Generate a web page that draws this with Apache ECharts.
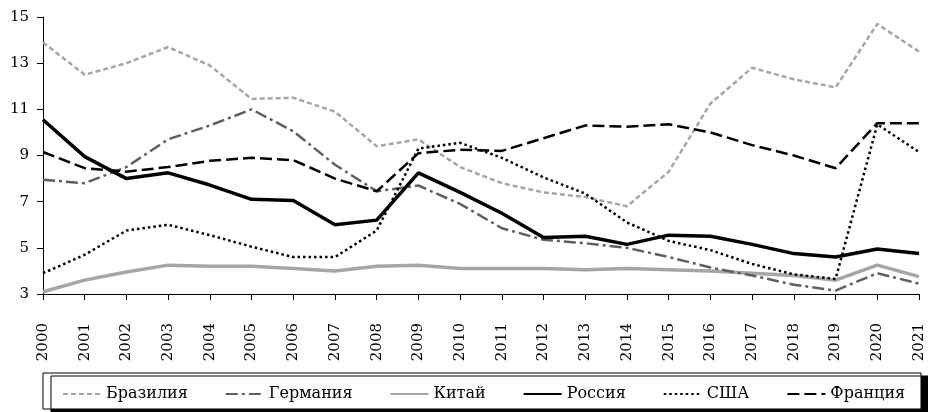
<!DOCTYPE html>
<html>
<head lang="ru">
	<meta charset="UTF-8">
	<title></title>
	<style>
		html, body { margin: 0; padding: 0; background: #fff; }
	</style>
</head>
<body>
	<div id="main" style="width: 928px;height: 412px"></div>
	<script src="https://cdn.jsdelivr.net/npm/echarts@6.0.0/dist/echarts.min.js"></script>
	<script>
		// годы по оси X
		var years = ['2000', '2001', '2002', '2003', '2004', '2005', '2006', '2007', '2008', '2009', '2010',
			'2011', '2012', '2013', '2014', '2015', '2016', '2017', '2018', '2019', '2020', '2021'];
		var yTicks = [3, 5, 7, 9, 11, 13, 15];

		var brazil = [13.9, 12.5, 13.0, 13.7, 12.9, 11.45, 11.5, 10.9, 9.4, 9.7, 8.5, 7.8, 7.4, 7.2, 6.8, 8.3, 11.25, 12.8, 12.3, 11.95, 14.7, 13.5];
		var germany = [7.95, 7.8, 8.5, 9.7, 10.3, 11.0, 10.05, 8.6, 7.45, 7.7, 6.9, 5.85, 5.35, 5.2, 5.0, 4.6, 4.15, 3.8, 3.4, 3.15, 3.9, 3.45];
		var china = [3.1, 3.6, 3.95, 4.25, 4.2, 4.2, 4.1, 4.0, 4.2, 4.25, 4.1, 4.1, 4.1, 4.05, 4.1, 4.05, 4.0, 3.9, 3.8, 3.6, 4.25, 3.75];
		var russia = [10.55, 8.95, 8.0, 8.25, 7.72, 7.1, 7.05, 6.0, 6.2, 8.25, 7.4, 6.5, 5.45, 5.5, 5.15, 5.55, 5.5, 5.15, 4.75, 4.6, 4.95, 4.75];
		var usa = [3.9, 4.7, 5.75, 6.0, 5.55, 5.05, 4.6, 4.6, 5.75, 9.3, 9.55, 8.9, 8.05, 7.35, 6.1, 5.3, 4.9, 4.3, 3.85, 3.65, 10.35, 9.15];
		var france = [9.15, 8.45, 8.3, 8.5, 8.77, 8.9, 8.8, 8.0, 7.45, 9.1, 9.25, 9.2, 9.75, 10.3, 10.25, 10.35, 10.0, 9.45, 9.0, 8.45, 10.4, 10.4];

		var font = '"DejaVu Serif", serif';

		var app = echarts.init(document.getElementById('main'));

		function line(name, data, color, width, dash, z) {
			return {
				name: name,
				type: 'line',
				data: data,
				symbol: 'none',
				showSymbol: false,
				z: z,
				animation: false,
				lineStyle: {
					color: color,
					width: width,
					type: dash
				},
				itemStyle: {
					color: color
				}
			};
		}

		option = {
			backgroundColor: '#fff',
			animation: false,
			grid: {
				left: 43,
				right: 9,
				top: 17,
				bottom: 118
			},
			graphic: [{
				type: 'rect',
				z: 0,
				shape: { x: 43, y: 373, width: 878, height: 36 },
				style: {
					fill: '#fff',
					stroke: '#000',
					lineWidth: 1,
					shadowColor: '#000',
					shadowBlur: 0,
					shadowOffsetX: 8,
					shadowOffsetY: 3
				}
			}],
			legend: {
				left: 57,
				top: 381,
				z: 10,
				itemWidth: 38,
				itemHeight: 12,
				itemGap: 37,
				itemStyle: {
					opacity: 0
				},
				textStyle: {
					fontFamily: font,
					fontSize: 16,
					color: '#000'
				},
				data: ['Бразилия', 'Германия', 'Китай', 'Россия', 'США', 'Франция']
			},
			xAxis: {
				type: 'category',
				boundaryGap: false,
				data: years,
				axisLine: { lineStyle: { color: '#000', width: 1 } },
				axisTick: { show: true, length: 6, alignWithLabel: true, lineStyle: { color: '#000' } },
				axisLabel: {
					rotate: 90,
					interval: 0,
					margin: 29,
					color: '#000',
					fontFamily: font,
					fontSize: 15
				},
				splitLine: { show: false }
			},
			yAxis: {
				type: 'value',
				min: yTicks[0],
				max: yTicks[yTicks.length - 1],
				interval: 2,
				axisLine: { show: true, lineStyle: { color: '#000', width: 1 } },
				axisTick: { show: true, length: 6, lineStyle: { color: '#000' } },
				axisLabel: {
					margin: 14,
					color: '#000',
					fontFamily: font,
					fontSize: 15
				},
				splitLine: { show: false }
			},
			series: [
				line('Бразилия', brazil, '#a6a6a6', 2.5, [5, 3], 2),
				line('Германия', germany, '#5f5f5f', 2.5, [12, 4, 3, 4], 3),
				line('Китай', china, '#a6a6a6', 3.5, 'solid', 2),
				line('Россия', russia, '#000', 3.5, 'solid', 5),
				line('США', usa, '#000', 2.5, [2.5, 3], 4),
				line('Франция', france, '#000', 2.5, [12, 5], 4)
			]
		};
		app.setOption(option);
		window.addEventListener('resize', function() {
			app.resize();
		});
	</script>
</body>
</html>
